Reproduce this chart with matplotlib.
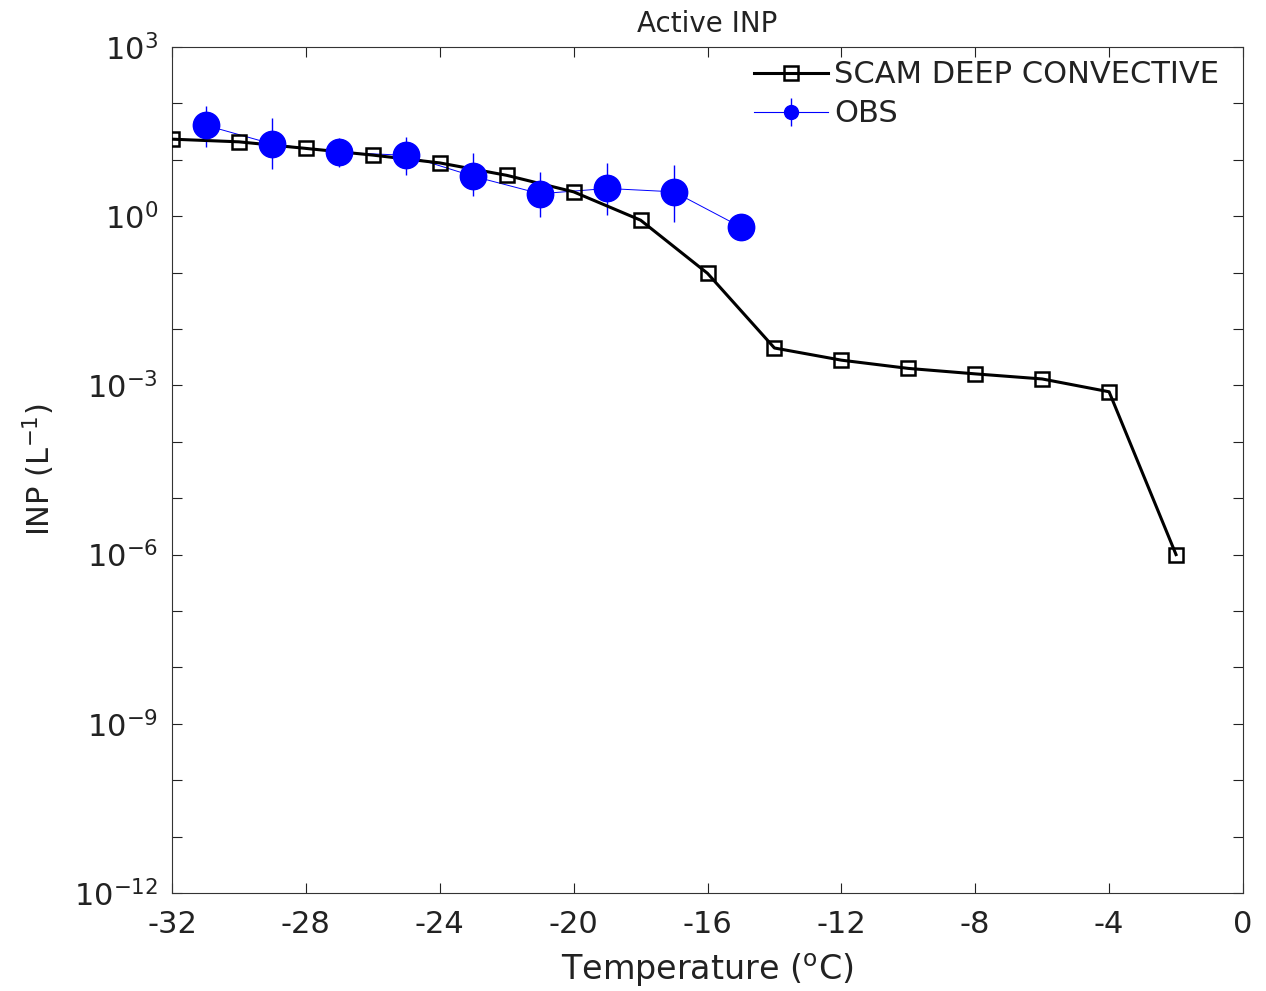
import matplotlib
matplotlib.use("Agg")
import matplotlib.pyplot as plt
from matplotlib.lines import Line2D
from matplotlib.ticker import FixedLocator, NullFormatter
import numpy as np

plt.rcParams['font.family'] = ['DejaVu Sans']
plt.rcParams['axes.unicode_minus'] = False
plt.rcParams['text.color'] = '#222222'
plt.rcParams['axes.labelcolor'] = '#222222'
plt.rcParams['xtick.color'] = '#222222'
plt.rcParams['ytick.color'] = '#222222'

# model: SCAM deep convective
model_t = [-32, -30, -28, -26, -24, -22, -20, -18, -16, -14, -12, -10, -8, -6, -4, -2]
model_inp = [23.2, 20.8, 15.9, 12.1, 8.8, 5.3, 2.7, 0.85, 0.097,
             0.0046, 0.0028, 0.0020, 0.0016, 0.0013, 0.00077, 1.0e-6]

# observations with error bar ends
obs_t = [-31, -29, -27, -25, -23, -21, -19, -17, -15]
obs_inp = [41, 19, 13.5, 12, 5.1, 2.5, 3.1, 2.7, 0.64]
obs_hi = [90, 55, 24, 25, 13, 6.0, 8.7, 8.0, 0.64]
obs_lo = [17, 7.0, 7.4, 5.3, 2.3, 0.95, 1.05, 0.8, 0.64]

xticks = [-32, -28, -24, -20, -16, -12, -8, -4, 0]
yexp = [-12, -9, -6, -3, 0, 3]

fig = plt.figure(figsize=(12.66, 9.91), dpi=100)
ax = fig.add_axes([0.1359, 0.0989, 0.8459, 0.8537])

obs_inp_a = np.array(obs_inp)
yerr = [obs_inp_a - np.array(obs_lo), np.array(obs_hi) - obs_inp_a]
ax.errorbar(obs_t, obs_inp, yerr=yerr, fmt='none', ecolor='blue', elinewidth=1.0, zorder=2)
ax.plot(obs_t, obs_inp, '-', color='blue', lw=0.7, zorder=2)
ax.plot(obs_t, obs_inp, 'o', color='blue', ms=19, mec='blue', zorder=4)

ax.plot(model_t, model_inp, '-s', color='black', lw=2.2, ms=10,
        mfc='none', mec='black', mew=1.8, zorder=3)

ax.set_yscale('log')
ax.set_xlim(-32, 0)
ax.set_ylim(1e-12, 1e3)

ax.set_xticks(xticks)
ax.set_xticklabels([str(t) for t in xticks])
ax.set_yticks([10.0 ** e for e in yexp])
ax.set_yticklabels([r'$10^{%d}$' % e for e in yexp])
ax.yaxis.set_minor_locator(FixedLocator([10.0 ** e for e in range(-12, 4)]))
ax.yaxis.set_minor_formatter(NullFormatter())

ax.tick_params(axis='both', which='both', direction='in', top=True, right=True,
               length=7, width=0.8, labelsize=22)
ax.tick_params(axis='x', pad=12)
ax.tick_params(axis='y', pad=10)
for s in ax.spines.values():
    s.set_linewidth(0.8)
    s.set_color('#333333')

ax.set_xlabel('Temperature ($^{\\rm o}$C)', fontsize=24, labelpad=9)
ax.set_ylabel('INP (L$^{-1}$)', fontsize=22, labelpad=12)
ax.set_title('Active INP', fontsize=20, pad=11)

h_model = Line2D([], [], color='black', lw=2.2, marker='s', ms=10,
                 mfc='none', mec='black', mew=1.8)
h_obs_line = Line2D([], [], color='blue', lw=0.8, marker='o', ms=10)
h_obs_bar = Line2D([], [], color='blue', lw=0, marker='|', ms=20, mew=1.0)
ax.legend([h_model, (h_obs_line, h_obs_bar)], ['SCAM DEEP CONVECTIVE', 'OBS'],
          loc='upper right', bbox_to_anchor=(0.986, 0.995), frameon=False,
          fontsize=22, handlelength=2.4, borderaxespad=0.0, borderpad=0.3,
          labelspacing=0.33, handletextpad=0.2)

fig.savefig('out.png', dpi=100)
